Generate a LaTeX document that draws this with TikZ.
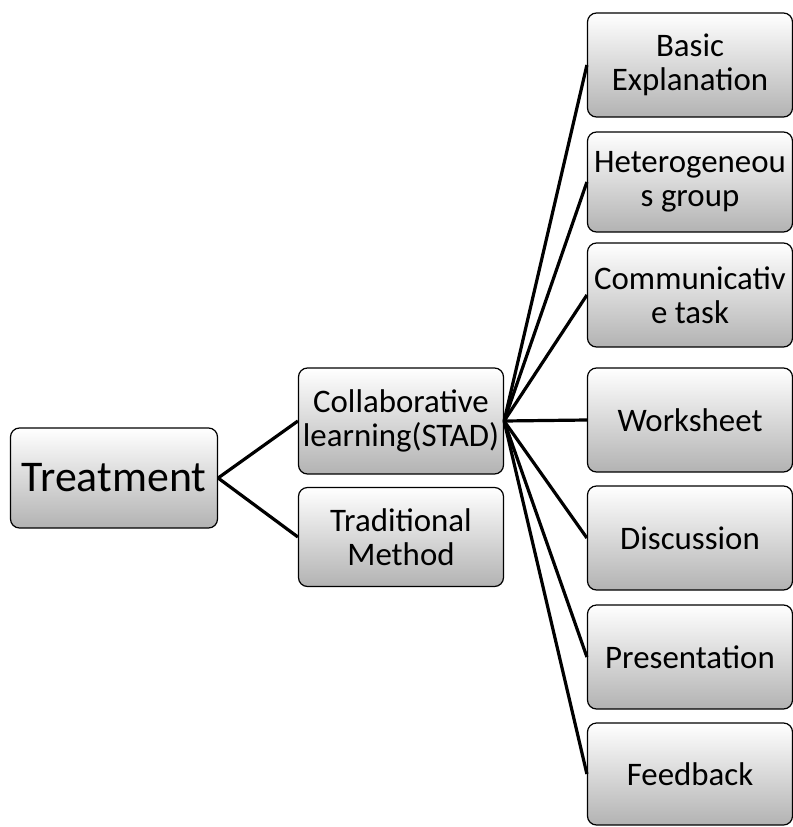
\documentclass[tikz,border=0pt]{standalone}
\usepackage{fontspec}
\setmainfont{Carlito}
\usepackage{tikz}
\usetikzlibrary{positioning}

\begin{document}
\begin{tikzpicture}[x=1bp, y=-1bp,
  box/.style={draw, line width=1.2bp, rounded corners=9bp, top color=white, bottom color=gray!60,
    minimum width=205bp, minimum height=104bp, align=center, inner sep=2bp,
    font=\fontsize{33}{34}\selectfont},
  link/.style={line width=3.2bp, black}]
\useasboundingbox (0,0) rectangle (793,827);
% root and its two branches
\node[box, minimum width=207bp, minimum height=100bp, font=\fontsize{44}{46}\selectfont] (treat) at (114,478) {Treatment};
\node[box, minimum height=106bp] (collab) at (401,421) {Collaborative\\learning(STAD)};
\node[box, minimum height=99bp] (trad) at (401,537) {Traditional\\Method};
% steps of the collaborative branch
\node[box] (basic) at (690,65) {Basic\\Explanation};
\node[box, minimum height=100bp] (hetero) at (690,182) {Heterogeneou\\s group};
\node[box] (comm) at (690,295) {Communicativ\\e task};
\node[box] (work) at (690,420) {Worksheet};
\node[box] (disc) at (690,538) {Discussion};
\node[box] (pres) at (690,657) {Presentation};
\node[box, minimum height=102bp] (feed) at (690,774) {Feedback};
% connectors
\draw[link] (treat.east) -- (collab.west);
\draw[link] (treat.east) -- (trad.west);
\foreach \n in {basic,hetero,comm,work,disc,pres,feed}
  \draw[link] (collab.east) -- (\n.west);
\end{tikzpicture}
\end{document}
